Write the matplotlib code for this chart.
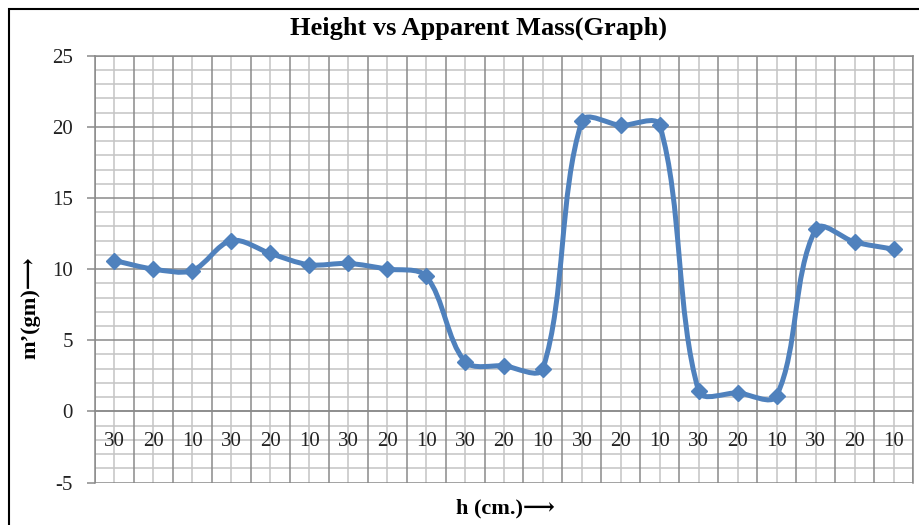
import numpy as np
import matplotlib
matplotlib.use('Agg')
import matplotlib.pyplot as plt
from matplotlib.path import Path
from matplotlib.patches import PathPatch, Rectangle

plt.rcParams['font.family'] = ['Liberation Serif', 'DejaVu Serif', 'DejaVu Sans']

heights = ['30', '20', '10'] * 7
mass = [10.6, 10.0, 9.9, 12.0, 11.1, 10.3, 10.4, 10.0, 9.5,
        3.5, 3.2, 3.0, 20.4, 20.1, 20.1, 1.4, 1.3, 1.1,
        12.8, 11.9, 11.4]
yticks = [-5, 0, 5, 10, 15, 20, 25]

blue = '#4F81BD'
major_grey = '#8a8a8a'
minor_grey = '#c4c4c4'

fig = plt.figure(figsize=(9.2, 5.25), dpi=100)
ax = fig.add_axes([95/920, 1 - 482.5/525, (913 - 95)/920, (482.5 - 55.7)/525])

n = len(mass)
x = np.arange(n)
y = np.array(mass)

ax.set_xlim(-0.5, n - 0.5)
ax.set_ylim(-5, 25)

# smoothed line: bezier handles along the neighbour chord, each handle
# as long as a fraction of its own segment (measured on screen)
sx = ax.bbox.width / n
sy = ax.bbox.height / 30.0
scr = np.column_stack([x * sx, y * sy]).astype(float)
padded = np.vstack([scr[0], scr, scr[-1]])
k = 0.3

def unit(v):
    L = np.hypot(*v)
    return v / L if L > 0 else v

verts = [scr[0]]
codes = [Path.MOVETO]
for i in range(n - 1):
    p0, p1, p2, p3 = padded[i], padded[i + 1], padded[i + 2], padded[i + 3]
    d12 = np.hypot(*(p2 - p1))
    c1 = p1 + unit(p2 - p0) * d12 * k
    c2 = p2 - unit(p3 - p1) * d12 * k
    verts += [c1, c2, p2]
    codes += [Path.CURVE4] * 3
verts = np.array(verts) / [sx, sy]
curve = PathPatch(Path(verts, codes), facecolor='none', edgecolor=blue,
                  lw=3.6, capstyle='round', joinstyle='round', zorder=3)
ax.add_patch(curve)
ax.plot(x, y, linestyle='none', marker='D', markersize=8.5, color=blue, zorder=4)

# grid: light lines at every unit / category centre, darker at 5s / category edges
for v in np.arange(-5, 26):
    if v % 5:
        ax.axhline(v, color=minor_grey, lw=1.1, zorder=1)
for v in yticks:
    ax.axhline(v, color=major_grey, lw=1.1, zorder=2)
for v in x:
    ax.axvline(v, color=minor_grey, lw=1.1, zorder=1)
for v in np.arange(-0.5, n, 1.0):
    ax.axvline(v, color=major_grey, lw=1.1, zorder=2)

ax.set_yticks(yticks)
ax.set_yticklabels([str(t) for t in yticks], fontsize=15, color='#222222')
ax.tick_params(axis='y', length=6, width=1.1, color=major_grey, pad=10)

ax.spines['bottom'].set_position(('data', 0))
ax.set_xticks(x)
ax.set_xticklabels(heights, fontsize=15, color='#222222')
ax.tick_params(axis='x', length=0, pad=15)
for s in ax.spines.values():
    s.set_color(major_grey)
    s.set_linewidth(1.1)

fig.text(478.5/920, 1 - 35/525, 'Height vs Apparent Mass(Graph)', ha='center',
         va='baseline', fontsize=19, fontweight='bold')
fig.text(505/920, 1 - 513/525, 'h (cm.)\u27f6', ha='center', va='baseline',
         fontsize=16, fontweight='bold')
fig.text(30/920, 1 - 308/525, 'm\u2019(gm)\u27f6', ha='center', va='center',
         rotation=90, fontsize=16, fontweight='bold')

# chart border
fig.patches.append(Rectangle((9/920, -0.05), 1.0, 1 - 9/525 + 0.05,
                             transform=fig.transFigure, fill=False,
                             edgecolor='black', lw=1.5))

fig.savefig('out.png', dpi=100)
